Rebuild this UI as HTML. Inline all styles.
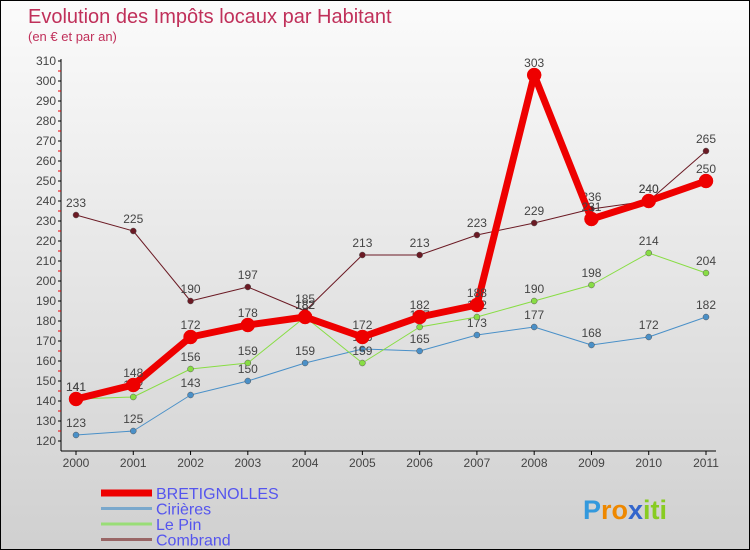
<!DOCTYPE html>
<html><head><meta charset="utf-8"><style>
body{margin:0}
#c{width:750px;height:550px;position:relative;background:linear-gradient(#fbfbfb,#d0d0d0);border:1px solid #000;box-sizing:border-box;font-family:"Liberation Sans","DejaVu Sans",sans-serif;overflow:hidden}
</style></head><body>
<div id="c">
<svg id="s" width="750" height="550"></svg>
</div>
<script>
const years=["2000","2001","2002","2003","2004","2005","2006","2007","2008","2009","2010","2011"];
const bretignolles=[141,148,172,178,182,172,182,188,303,231,240,250];
const cirieres=[123,125,143,150,159,166,165,173,177,168,172,182];
const lepin=[141,142,156,159,182,159,177,182,190,198,214,204];
const combrand=[233,225,190,197,185,213,213,223,229,236,240,265];
const yTicks=[120,130,140,150,160,170,180,190,200,210,220,230,240,250,260,270,280,290,300,310];
const NS="http://www.w3.org/2000/svg",s=document.getElementById('s');
const X=i=>75+i*(630/11), Y=v=>440-(v-120)*2;
function el(t,a,p){const e=document.createElementNS(NS,t);for(const k in a)e.setAttribute(k,a[k]);(p||s).appendChild(e);return e;}
function tx(x,y,str,a){const e=el('text',Object.assign({x:x,y:y},a));e.textContent=str;return e;}
let t=tx(27,22,"Evolution des Impôts locaux par Habitant",{fill:"#c0305a","font-size":"20"});

t=tx(27,40,"(en € et par an)",{fill:"#c0305a","font-size":"13"});

let ax=el('line',{x1:60,y1:58,x2:60,y2:450,stroke:"#000"});

yTicks.forEach(v=>{el('line',{x1:57,x2:60,y1:Y(v),y2:Y(v),stroke:"#000"});
 if(v<310)el('line',{x1:57,x2:60,y1:Y(v+5),y2:Y(v+5),stroke:"#e00"});
 const l=tx(55,Y(v)+4,String(v),{"text-anchor":"end","font-size":"12",fill:"#444"});
 });
ax=el('line',{x1:60,y1:450,x2:715,y2:450,stroke:"#000"});

years.forEach((y,i)=>{el('line',{x1:X(i),x2:X(i),y1:450,y2:454,stroke:"#000"});
 const l=tx(X(i),466,y,{"text-anchor":"middle","font-size":"12",fill:"#444"});
 });
const series=[
 {n:"combrand",d:combrand,c:"#6b1a24",w:1,r:3},
 {n:"cirieres",d:cirieres,c:"#4a90c8",w:1,r:3},
 {n:"le-pin",d:lepin,c:"#88dd44",w:1,r:3},
 {n:"bretignolles",d:bretignolles,c:"#ee0000",w:7,r:7}];
series.forEach(S=>{
 const g=el('g',{});
 
 el('polyline',{points:S.d.map((v,i)=>X(i)+","+Y(v)).join(" "),fill:"none",stroke:S.c,"stroke-width":S.w,"stroke-linejoin":"round"},g);
 S.d.forEach((v,i)=>{const p=el('circle',{cx:X(i),cy:Y(v),r:S.r,fill:S.c,stroke:S.w>1?"#e00":"#555","stroke-width":0.5},g);
  
  const l=tx(X(i),Y(v)-8,String(v),{"text-anchor":"middle","font-size":"12",fill:"#444"},g);
  });
});
const leg=[["BRETIGNOLLES","#ee0000",7],["Cirières","#7aa8cc",3],["Le Pin","#99dd77",3],["Combrand","#996666",3]];
leg.forEach((L,i)=>{const y=492+i*15.5;const g=el('g',{});
 
 el('line',{x1:100,x2:151,y1:y,y2:y,stroke:L[1],"stroke-width":L[2]},g);
 tx(155,y+6,L[0],{"font-size":"16",fill:"#5555ee"},g);});
const lg=el('text',{x:582,y:518,"font-size":"27","font-weight":"bold"});

[["P","#3399dd"],["ro","#ee8800"],["x","#3366cc"],["iti","#88cc22"]].forEach(p=>{const ts=el('tspan',{fill:p[1]},lg);ts.textContent=p[0];});
</script>
</body></html>
